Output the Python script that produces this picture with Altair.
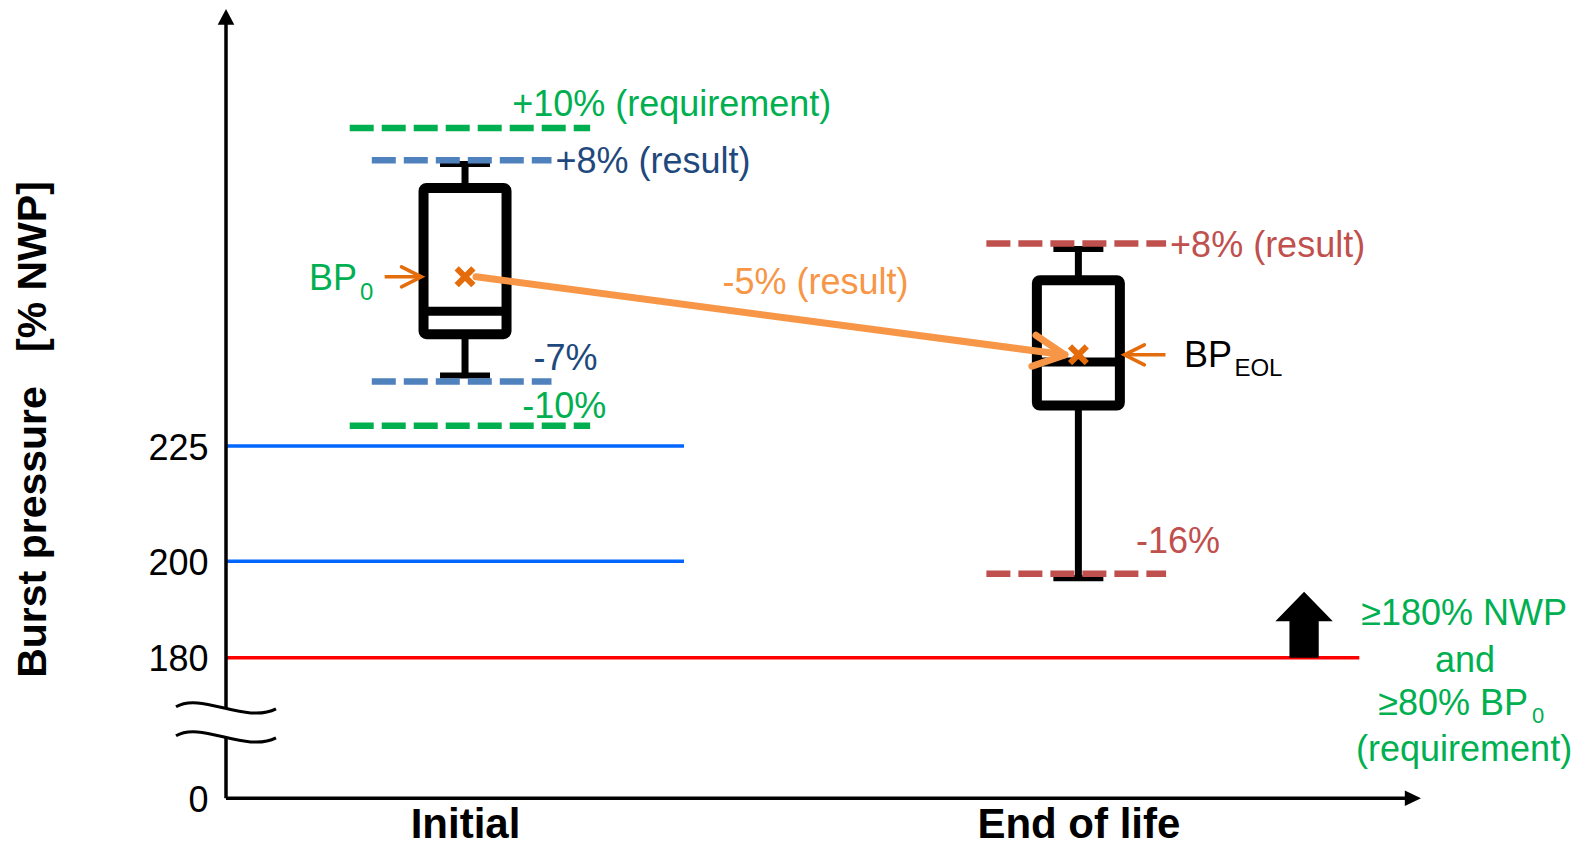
import altair as alt
import pandas as pd

# ---------------- data ----------------
stages = ["Initial", "End of life"]
stage_pos = [1, 2]
whisker_low = [240.0, 196.5]
box_q1 = [248.8, 233.6]
box_median = [253.7, 242.9]
box_q3 = [279.9, 260.3]
whisker_high = [285.0, 266.9]
bp_mean = [261.0, 244.4]

# dashed scatter bands
band_level = [292.7, 229.3, 285.8, 238.7, 268.1, 197.4]
band_from = [0.812, 0.812, 0.848, 0.848, 1.850, 1.850]
band_to = [1.204, 1.204, 1.141, 1.141, 2.143, 2.143]
band_text = ["+10% (requirement)", "-10%", "+8% (result)", "-7%", "+8% (result)", "-16%"]

# solid reference levels
ref_level = [225, 200, 180]
ref_to = [1.357, 1.357, 2.458]

y_tick_values = [0, 180, 200, 225]

change_text = "-5% (result)"
pointer_from = [0.869, 2.142]
pointer_to = [0.929, 2.075]
requirement_x = 2.368
requirement_lines = ["\u2265180% NWP", "and", "\u226580% BP", "(requirement)"]

# ---------------- styles ----------------
FONT = "Liberation Sans"
GREEN = "#00B050"
BLUE_DASH = "#4F81BD"
DARK_BLUE = "#1F497D"
RED_DASH = "#C0504D"
ORANGE = "#F79646"
ORANGE_DARK = "#E46C0A"
REF_BLUE = "#0066FF"
REF_RED = "#FF0000"
band_colors = [GREEN, GREEN, BLUE_DASH, BLUE_DASH, RED_DASH, RED_DASH]
text_colors = [GREEN, GREEN, DARK_BLUE, DARK_BLUE, RED_DASH, RED_DASH]
text_offsets = [(-78, -11.7), (-68, -7.7), (4, 13), (-18, -11.7), (4, 14), (-30, -21.3)]
ref_colors = [REF_BLUE, REF_BLUE, REF_RED]

X_DOMAIN = [0.6103, 2.5586]
Y_DOMAIN = [0, 180, 200, 225, 318]
Y_RANGE = [789.3, 648.8, 552.3, 437, 0]
W, H = 1205, 789

x_scale = alt.Scale(domain=X_DOMAIN, nice=False, zero=False)
y_scale = alt.Scale(domain=Y_DOMAIN, range=Y_RANGE, nice=False, zero=False)

label_expr = " : ".join(
    f"datum.value == {p} ? '{s}'" for p, s in zip(stage_pos[:-1], stages[:-1])
) + f" : '{stages[-1]}'"

x_axis = alt.Axis(values=stage_pos, labelExpr=label_expr, title=None, domain=False,
                  ticks=False, tickSize=0, grid=False, labelFont=FONT, labelFontSize=42,
                  labelFontWeight="bold", labelColor="black", labelBaseline="alphabetic",
                  labelPadding=39, labelAngle=0, labelLimit=0, labelOverlap=False)
y_axis = alt.Axis(values=y_tick_values, format="d", domain=False, ticks=False, tickSize=0,
                  grid=False, labelFont=FONT, labelFontSize=36, labelColor="black",
                  labelPadding=13, labelOffset=2,
                  title="Burst pressure\u00a0\u00a0\u00a0[% NWP]", titleFont=FONT,
                  titleFontSize=41, titleFontWeight="bold", titleColor="black",
                  titleAngle=270, titleX=-176, titleY=420, titleAlign="center",
                  titleBaseline="alphabetic", titleLimit=0)


def X(f):
    return alt.X(f, type="quantitative", scale=x_scale, axis=x_axis)


def Y(f):
    return alt.Y(f, type="quantitative", scale=y_scale, axis=y_axis)


def note(text, x, y, color, dx=0, dy=0, align="left", size=36, weight="normal"):
    df = pd.DataFrame({"x": [x], "y": [y], "t": [text]})
    return alt.Chart(df).mark_text(align=align, baseline="alphabetic", dx=dx, dy=dy,
                                   font=FONT, fontSize=size, fontWeight=weight,
                                   color=color).encode(x=X("x"), y=Y("y"), text="t:N")


layers = []

# reference levels
for lvl, x1, col in zip(ref_level, ref_to, ref_colors):
    d = pd.DataFrame({"x": [X_DOMAIN[0]], "x1": [x1], "y": [lvl]})
    layers.append(alt.Chart(d).mark_rule(color=col, strokeWidth=3.5)
                  .encode(x=X("x"), x2="x1", y=Y("y")))

# axis lines
d_yax = pd.DataFrame({"x": [X_DOMAIN[0]], "y": [Y_DOMAIN[0]], "y1": [Y_DOMAIN[-1] - 3]})
layers.append(alt.Chart(d_yax).mark_rule(color="black", strokeWidth=3.5)
              .encode(x=X("x"), y=Y("y"), y2="y1"))
d_xax = pd.DataFrame({"x": [X_DOMAIN[0]], "x1": [X_DOMAIN[1] - 0.02], "y": [Y_DOMAIN[0]]})
layers.append(alt.Chart(d_xax).mark_rule(color="black", strokeWidth=3.5)
              .encode(x=X("x"), x2="x1", y=Y("y")))

# arrow heads of axes
d_ytip = pd.DataFrame({"x": [X_DOMAIN[0]], "y": [Y_DOMAIN[-1]]})
layers.append(alt.Chart(d_ytip).mark_point(shape="M0,0 L-1,1.9 L1,1.9 Z", filled=True,
                                           color="black", size=276, opacity=1)
              .encode(x=X("x"), y=Y("y")))
d_xtip = pd.DataFrame({"x": [X_DOMAIN[1]], "y": [Y_DOMAIN[0]]})
layers.append(alt.Chart(d_xtip).mark_point(shape="M0,0 L-2.1,-1 L-2.1,1 Z", filled=True,
                                           color="black", size=237, opacity=1)
              .encode(x=X("x"), y=Y("y")))

# axis break symbol
d_break = pd.DataFrame({"x": [X_DOMAIN[0]], "y": [98]})
layers.append(alt.Chart(d_break).mark_point(
    shape="M-1,-0.3 C-0.5,-0.6 0.4,0.05 1,-0.26 L1,0.32 C0.4,0.63 -0.5,-0.02 -1,0.28 Z",
    filled=True, color="white", size=10000, opacity=1).encode(x=X("x"), y=Y("y")))
layers.append(alt.Chart(d_break).mark_point(
    shape="M-1,-0.3 C-0.5,-0.6 0.4,0.05 1,-0.26 M-1,0.28 C-0.5,-0.02 0.4,0.63 1,0.32",
    filled=False, color="black", strokeWidth=3, size=10000, opacity=1)
    .encode(x=X("x"), y=Y("y")))

# box plots
box = pd.DataFrame({"stage": stages, "x": stage_pos, "lo": whisker_low, "q1": box_q1,
                    "med": box_median, "q3": box_q3, "hi": whisker_high, "mean": bp_mean})
layers.append(alt.Chart(box).mark_rule(color="black", strokeWidth=7)
              .encode(x=X("x"), y=Y("lo"), y2="hi"))
for f in ["lo", "hi"]:
    layers.append(alt.Chart(box).mark_tick(orient="horizontal", size=50, thickness=6,
                                           color="black", opacity=1)
                  .encode(x=X("x"), y=Y(f)))
layers.append(alt.Chart(box).mark_bar(size=83, fill="white", stroke="black",
                                      strokeWidth=10, cornerRadius=3)
              .encode(x=X("x"), y=Y("q1"), y2="q3"))
layers.append(alt.Chart(box).mark_tick(orient="horizontal", size=83, thickness=9,
                                       color="black", opacity=1)
              .encode(x=X("x"), y=Y("med")))

# dashed bands
for lvl, x0, x1, col in zip(band_level, band_from, band_to, band_colors):
    d = pd.DataFrame({"x": [x0], "x1": [x1], "y": [lvl]})
    layers.append(alt.Chart(d).mark_rule(color=col, strokeWidth=6.5, strokeDash=[24, 8])
                  .encode(x=X("x"), x2="x1", y=Y("y")))

# change arrow between the means
arrow = pd.DataFrame({"x": [stage_pos[0] + 0.018], "y": [bp_mean[0]],
                      "x1": [stage_pos[1] - 0.022], "y1": [bp_mean[1]]})
layers.append(alt.Chart(arrow).mark_rule(color=ORANGE, strokeWidth=7, strokeCap="round")
              .encode(x=X("x"), y=Y("y"), x2="x1", y2="y1"))
layers.append(alt.Chart(arrow).mark_point(shape="M-2,-1 L0,0 L-2,1", filled=False,
                                          color=ORANGE, strokeWidth=7, size=975, angle=7.5,
                                          strokeCap="round", strokeJoin="round", opacity=1)
              .encode(x=X("x1"), y=Y("y1")))

# pointer arrows
for x0, x1, m, ang in zip(pointer_from, pointer_to, bp_mean, [0, 180]):
    d = pd.DataFrame({"x": [x0], "x1": [x1], "y": [m]})
    layers.append(alt.Chart(d).mark_rule(color=ORANGE_DARK, strokeWidth=3.5)
                  .encode(x=X("x"), x2="x1", y=Y("y")))
    layers.append(alt.Chart(d).mark_point(shape="M-2,-1 L0,0 L-2,1", filled=False,
                                          color=ORANGE_DARK, strokeWidth=3.5, size=400,
                                          angle=ang, strokeCap="round", opacity=1)
                  .encode(x=X("x1"), y=Y("y")))

# mean markers
layers.append(alt.Chart(box).mark_point(shape="M-1,-1 L1,1 M-1,1 L1,-1", filled=False,
                                        color=ORANGE_DARK, strokeWidth=6, size=280, opacity=1)
              .encode(x=X("x"), y=Y("mean")))

# block arrow for requirement
d_req = pd.DataFrame({"x": [requirement_x], "y": [ref_level[2]]})
layers.append(alt.Chart(d_req).mark_point(
    shape="M-0.51,0 L-0.51,-1.27 L-1,-1.27 L0,-2.3 L1,-1.27 L0.51,-1.27 L0.51,0 Z",
    filled=True, color="black", size=3295, opacity=1).encode(x=X("x"), y=Y("y")))

# band texts
for t, lvl, x1, col, (dx, dy) in zip(band_text, band_level, band_to, text_colors, text_offsets):
    layers.append(note(t, x1, lvl, col, dx=dx, dy=dy))

# change text
mid_x = (arrow["x"][0] + arrow["x1"][0]) / 2
mid_y = (bp_mean[0] + bp_mean[1]) / 2
layers.append(note(change_text, mid_x, mid_y, ORANGE, dx=45, dy=-21.6, align="center"))

# BP labels
layers.append(note("BP", stage_pos[0], bp_mean[0], GREEN, dx=-108, dy=13.3, align="right"))
layers.append(note("0", stage_pos[0], bp_mean[0], GREEN, dx=-105, dy=23.3, size=24))
layers.append(note("BP", stage_pos[1], bp_mean[1], "black", dx=105.5, dy=11.7))
layers.append(note("EOL", stage_pos[1], bp_mean[1], "black", dx=156, dy=21, size=24))

# requirement text
layers.append(note(requirement_lines[0], requirement_x, ref_level[2], GREEN, dx=160, dy=-32.8, align="center"))
layers.append(note(requirement_lines[1], requirement_x, ref_level[2], GREEN, dx=161, dy=13.9, align="center"))
layers.append(note(requirement_lines[2], requirement_x, ref_level[2], GREEN, dx=224, dy=57.2, align="right"))
layers.append(note("0", requirement_x, ref_level[2], GREEN, dx=228, dy=65.5, size=22))
layers.append(note(requirement_lines[3], requirement_x, ref_level[2], GREEN, dx=160, dy=103, align="center"))

chart = alt.layer(*layers).properties(
    width=W, height=H,
    autosize=alt.AutoSizeParams(type="none"),
    padding={"left": 213, "top": 1, "right": 153, "bottom": 48},
    background="white",
).configure_view(stroke=None)

chart.save("out.html", embed_options={"renderer": "svg", "actions": False})
